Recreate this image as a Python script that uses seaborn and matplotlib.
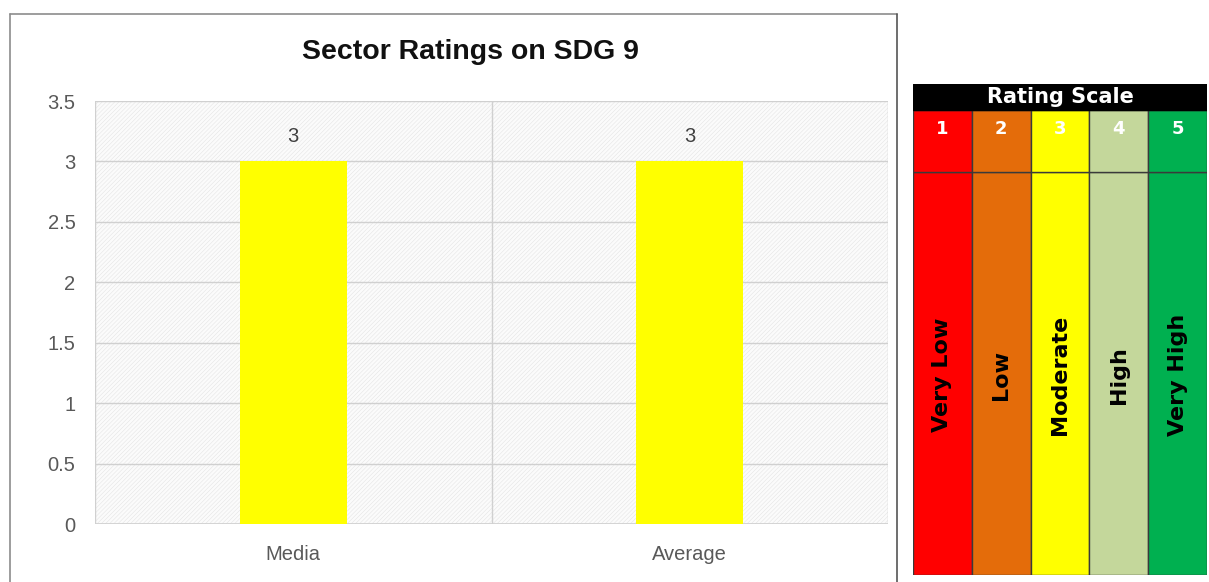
import matplotlib
matplotlib.use("Agg")
import matplotlib.pyplot as plt
from matplotlib.patches import Rectangle
from matplotlib.lines import Line2D
import seaborn as sns
import pandas as pd

# chart data
sectors = ["Media", "Average"]
ratings = [3, 3]
bar_color = "#FFFF00"

# rating scale legend
scale_levels = ["1", "2", "3", "4", "5"]
scale_names = ["Very Low", "Low", "Moderate", "High", "Very High"]
scale_colors = ["#FF0000", "#E46C0A", "#FFFF00", "#C4D79B", "#00B050"]

sns.set_style("white")
plt.rcParams["font.family"] = ["Liberation Sans", "DejaVu Sans"]
plt.rcParams["hatch.linewidth"] = 0.35

W, H = 1209, 582
fig = plt.figure(figsize=(W / 100, H / 100), dpi=100)

# outer chart frame
fig.add_artist(Line2D([10 / W, 10 / W], [0, 1 - 14 / H], color="#8c8c8c", lw=1.2))
fig.add_artist(Line2D([10 / W, 897 / W], [1 - 14 / H, 1 - 14 / H], color="#8c8c8c", lw=1.2))
fig.add_artist(Line2D([897 / W, 897 / W], [0, 1 - 14 / H], color="#555555", lw=1.2))

ax = fig.add_axes([95 / W, 1 - 524 / H, 793 / W, 423 / H])
ax.add_patch(Rectangle((0, 0), 1, 1, transform=ax.transAxes, facecolor="#fbfbfb",
                       edgecolor="#e2e2e2", lw=0, hatch="////////", zorder=0))

df = pd.DataFrame({"sector": sectors, "rating": ratings})
sns.barplot(data=df, x="sector", y="rating", color=bar_color, width=0.27,
            saturation=1, linewidth=0, ax=ax, zorder=3)
for c in ax.containers:
    ax.bar_label(c, labels=[f"{v:g}" for v in ratings], padding=11,
                 fontsize=14.5, color="#404040")

ax.set_ylim(0, 3.5)
ax.set_yticks([0, 0.5, 1, 1.5, 2, 2.5, 3, 3.5])
ax.set_yticklabels(["0", "0.5", "1", "1.5", "2", "2.5", "3", "3.5"])
ax.set_xlim(-0.5, 1.5)
ax.grid(axis="y", color="#d0d0d0", lw=1, zorder=1)
for xv in [-0.5, 0.5, 1.5]:
    ax.axvline(xv, color="#d0d0d0", lw=1, zorder=1)
for s in ax.spines.values():
    s.set_visible(False)
ax.axhline(0, color="#d0d0d0", lw=1.2, zorder=2)
ax.tick_params(axis="both", length=0, labelsize=14.5, colors="#595959", pad=14)
ax.tick_params(axis="x", pad=15)
ax.set_xlabel("")
ax.set_ylabel("")
fig.text(470 / W, 1 - 52 / H, "Sector Ratings on SDG 9", ha="center", va="center",
         fontsize=20.5, fontweight="bold", color="#111111")

# rating scale table
tx = fig.add_axes([913 / W, 1 - 575 / H, 294 / W, 491 / H])
n = len(scale_levels)
idx = list(range(n))
label_top = 403 / 491
num_top = 465 / 491
tx.bar(idx, [label_top] * n, width=1, bottom=0, color=scale_colors,
       edgecolor="#3a3a3a", lw=1)
tx.bar(idx, [num_top - label_top] * n, width=1, bottom=label_top,
       color=scale_colors, edgecolor="#3a3a3a", lw=1)
tx.bar([(n - 1) / 2], [1 - num_top], width=n, bottom=num_top, color="black",
       edgecolor="black", lw=1)
tx.text((n - 1) / 2, (1 + num_top) / 2, "Rating Scale", ha="center", va="center",
        color="white", fontsize=15, fontweight="bold", family=["DejaVu Sans"])
for i, (lv, nm) in enumerate(zip(scale_levels, scale_names)):
    tx.text(i, (575 - 129) / 491, lv, ha="center", va="center", color="white",
            fontsize=13, fontweight="bold", family=["DejaVu Sans"])
    tx.text(i, (575 - 375) / 491, nm, ha="center", va="center", rotation=90,
            color="black", fontsize=16, fontweight="bold",
            family=["DejaVu Sans"])
tx.set_xlim(-0.5, n - 0.5)
tx.set_ylim(0, 1)
tx.axis("off")

fig.savefig("out.png", dpi=100)
